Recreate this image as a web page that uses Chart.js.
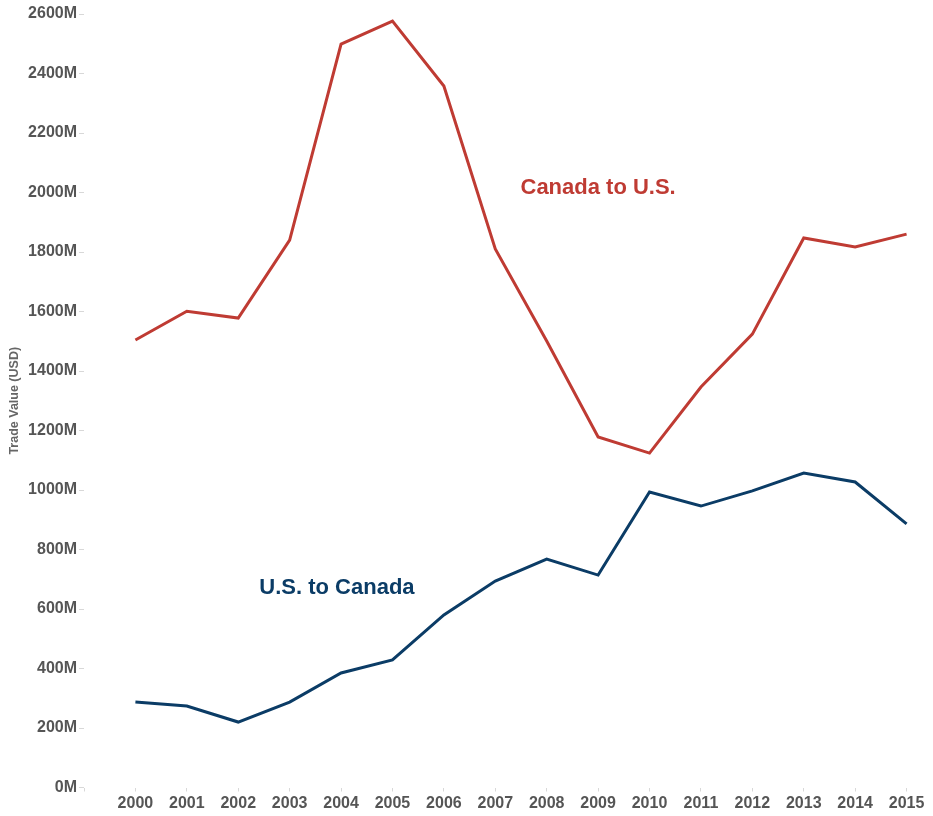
<!DOCTYPE html>
<html>
<head>
<meta charset="utf-8">
<script src="https://cdn.jsdelivr.net/npm/chart.js@4"></script>
<style>
  html, body { margin: 0; padding: 0; background: #fff; }
  #wrap { width: 933px; height: 816px; }
</style>
</head>
<body>
<div id="wrap"><canvas id="chart"></canvas></div>
<script>
// Trade value by year, millions of USD
const years       = [2000, 2001, 2002, 2003, 2004, 2005, 2006, 2007, 2008, 2009, 2010, 2011, 2012, 2013, 2014, 2015];
const canadaToUS  = [1504, 1601, 1578, 1840, 2499, 2576, 2358, 1810, 1501, 1178, 1124, 1346, 1524, 1847, 1817, 1860];
const usToCanada  = [287, 274, 220, 287, 385, 429, 580, 694, 768, 714, 993, 946, 997, 1057, 1027, 886];
const yTicks      = [0, 200, 400, 600, 800, 1000, 1200, 1400, 1600, 1800, 2000, 2200, 2400, 2600];

const RED  = '#bf3b33';
const BLUE = '#0b3c66';
const FONT = '"Liberation Sans", Arial, sans-serif';

// series labels drawn inside the plot, anchored in data units
const seriesLabels = [
  { text: 'Canada to U.S.', x: 2009.0, y: 2015, color: RED },
  { text: 'U.S. to Canada', x: 2003.92, y: 670, color: BLUE },
];

const labelPlugin = {
  id: 'seriesLabels',
  afterDatasetsDraw(chart) {
    const { ctx, scales } = chart;
    ctx.save();
    ctx.font = 'bold 22px ' + FONT;
    ctx.textAlign = 'center';
    ctx.textBaseline = 'middle';
    seriesLabels.forEach(l => {
      ctx.fillStyle = l.color;
      ctx.fillText(l.text, scales.x.getPixelForValue(l.x), scales.y.getPixelForValue(l.y));
    });
    ctx.restore();
  },
};

const toPoints = vals => vals.map((v, i) => ({ x: years[i], y: v }));

new Chart(document.getElementById('chart'), {
  type: 'line',
  data: {
    datasets: [
      { data: toPoints(canadaToUS), borderColor: RED,  borderWidth: 3, pointRadius: 0, tension: 0 },
      { data: toPoints(usToCanada), borderColor: BLUE, borderWidth: 3, pointRadius: 0, tension: 0 },
    ],
  },
  options: {
    responsive: true,
    maintainAspectRatio: false,
    animation: false,
    layout: { padding: { top: 14, right: 11, bottom: 0, left: 0 } },
    plugins: {
      legend: { display: false },
      tooltip: { enabled: false },
    },
    scales: {
      x: {
        type: 'linear',
        min: 1999,
        max: 2015.3,
        border: { display: false },
        grid: { drawOnChartArea: false, drawTicks: true, tickLength: 4, color: '#d8d8d8' },
        afterBuildTicks: s => { s.ticks = [1999].concat(years).map(v => ({ value: v })); },
        afterFit: s => { s.height = 28.5; },
        ticks: {
          color: '#555',
          font: { family: FONT, size: 16, weight: 'bold' },
          padding: 2,
          maxRotation: 0,
          autoSkip: false,
          callback: v => (v === 1999 ? '' : String(v)),
        },
      },
      y: {
        min: 0,
        max: 2600,
        border: { display: false },
        grid: { drawOnChartArea: false, drawTicks: true, tickLength: 5, color: '#d8d8d8' },
        afterBuildTicks: s => { s.ticks = yTicks.map(v => ({ value: v })); },
        afterFit: s => { s.width = 84; },
        title: {
          display: true,
          text: 'Trade Value (USD)',
          color: '#666',
          font: { family: FONT, size: 12.5, weight: 'bold' },
          padding: { top: 7, bottom: 0 },
        },
        ticks: {
          color: '#555',
          font: { family: FONT, size: 16, weight: 'bold' },
          padding: 2,
          callback: v => v + 'M',
        },
      },
    },
  },
  plugins: [labelPlugin],
});
</script>
</body>
</html>
